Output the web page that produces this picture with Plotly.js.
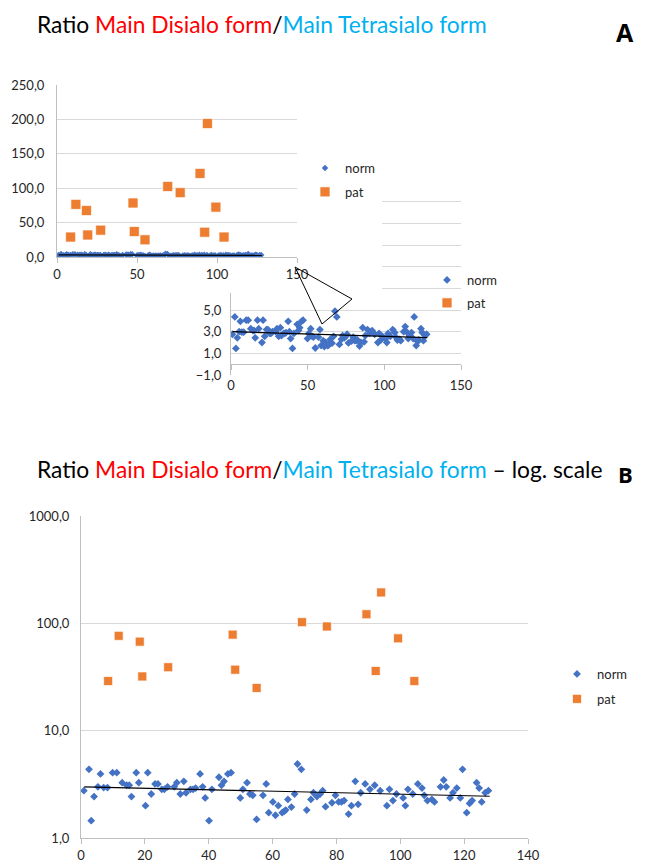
<!DOCTYPE html>
<html><head><meta charset="utf-8">
<script src="https://cdn.plot.ly/plotly-3.0.1.min.js"></script>
<style>html,body{margin:0;padding:0;background:#fff}#chart{width:648px;height:862px}</style>
</head><body><div id="chart"></div>
<script>
// ---- data ----
const seriesNames = ['norm', 'pat'];
const normX = [0.9,2.5,3.2,4.1,5.3,6.1,7.1,8.3,9.9,11.2,12.9,14.3,15.1,15.8,17.3,18.1,20.2,20.9,22.0,23.2,24.1,25.3,26.1,27.1,29.2,30.0,31.1,32.2,32.9,34.3,35.1,35.9,37.3,38.1,38.9,40.1,41.0,43.2,44.0,44.8,46.0,47.0,49.9,50.7,52.0,52.9,53.8,55.0,57.0,58.0,58.8,60.1,60.9,61.8,63.0,63.6,64.1,64.8,65.9,66.9,67.8,69.0,
  70.7,72.0,72.8,73.9,74.9,75.7,76.6,78.6,79.7,80.7,81.6,82.4,83.8,84.7,85.9,86.8,87.6,89.0,90.5,92.0,93.7,95.8,96.6,97.7,98.8,100.9,101.6,102.4,103.9,105.5,106.8,107.5,108.5,109.9,110.7,112.6,113.6,114.4,115.6,116.5,117.7,118.8,119.5,120.8,121.7,122.5,123.9,124.7,125.5,126.6,127.6];
const normY = [2.76,4.36,1.45,2.43,3.0,3.95,2.95,2.95,4.06,4.06,3.28,3.10,3.10,2.43,4.06,3.28,2.0,4.06,2.57,3.19,3.19,2.84,2.84,3.0,3.0,3.28,2.57,3.37,2.64,2.84,2.84,2.92,3.95,3.0,2.36,1.45,2.84,3.68,3.10,3.37,3.95,4.06,2.36,2.84,3.28,2.57,2.5,1.49,2.5,3.19,1.72,2.17,1.63,2.0,1.72,1.77,1.82,2.29,1.94,2.57,4.89,4.36,
  1.82,2.29,2.64,2.43,2.57,2.76,1.96,2.13,2.5,2.17,2.17,2.23,1.67,2.0,3.37,2.06,2.64,3.19,2.84,3.10,2.76,2.0,2.84,2.23,2.57,2.36,2.0,2.84,2.57,3.19,2.92,2.5,2.23,2.29,2.17,3.0,3.47,3.0,2.36,2.64,2.92,2.36,4.36,1.72,2.10,2.23,3.28,2.92,2.17,2.64,2.76];
const patX = [8.5,11.8,18.4,19.2,27.3,47.5,48.3,55.0,69.2,77.0,89.4,92.3,94.0,99.3,104.4];
const patY = [29,76.5,67.5,32,39,78.5,37,25,102.5,93.5,121.5,36,194,72.5,29];
const trendX = [1, 128];
const trendY = [3.0, 2.45];
const emptyX = [];
const emptyY = [];

// ---- helpers ----
const W = 648, H = 862;
const px = v => v / W;
const py = v => 1 - v / H;
const blue = '#4472C4', orange = '#ED7D31';
const gridC = '#d9d9d9', axisC = '#bfbfbf', tickC = '#262626';
const FONT = 'Lato, "Noto Sans", sans-serif';

function normTrace(xa, ya, leg, size) {
  return {type:'scatter', mode:'markers', x:normX, y:normY, xaxis:xa, yaxis:ya,
    name:seriesNames[0], legend:leg, legendgroup:'n', hoverinfo:'skip',
    marker:{symbol:'diamond', size:size, color:blue}};
}
function patTrace(xa, ya, leg, size) {
  return {type:'scatter', mode:'markers', x:patX, y:patY, xaxis:xa, yaxis:ya,
    name:seriesNames[1], legend:leg, legendgroup:'p', hoverinfo:'skip',
    marker:{symbol:'square', size:size, color:orange, line:{color:'rgba(255,255,255,0.7)', width:1}}};
}
function trendTrace(xa, ya) {
  return {type:'scatter', mode:'lines', x:trendX, y:trendY, xaxis:xa, yaxis:ya,
    showlegend:false, hoverinfo:'skip', line:{color:'#000', width:1.2}};
}

const traces = [
  normTrace('x','y','legend',5), patTrace('x','y','legend',10), trendTrace('x','y'),
  normTrace('x2','y2','legend2',6), patTrace('x2','y2','legend2',10), trendTrace('x2','y2'),
  {type:'scatter', mode:'markers', x:emptyX, y:emptyY, xaxis:'x4', yaxis:'y4', showlegend:false, hoverinfo:'skip'},
  normTrace('x3','y3','legend3',6), patTrace('x3','y3','legend3',9), trendTrace('x3','y3')
];

const xBase = {showgrid:false, zeroline:false, showline:true, linecolor:axisC, linewidth:1,
  ticks:'outside', ticklen:5, tickcolor:axisC, tickfont:{size:13, color:tickC}, fixedrange:true};
const yBase = {showgrid:true, gridcolor:gridC, gridwidth:1, zeroline:false, showline:true,
  linecolor:axisC, linewidth:1, ticks:'', tickfont:{size:13, color:tickC}, tickformat:'.1f', fixedrange:true};

const legBase = {xanchor:'left', yanchor:'top', bgcolor:'rgba(0,0,0,0)', font:{size:13, color:tickC},
  traceorder:'grouped', tracegroupgap:4};

const titleMid = 'Ratio <span style="color:#FF0000">Main Disialo form</span>/<span style="color:#00B0F0">Main Tetrasialo form</span>';

const layout = {
  width: W, height: H, autosize:false,
  margin:{l:0, r:0, t:0, b:0, pad:0},
  paper_bgcolor:'#fff', plot_bgcolor:'rgba(0,0,0,0)',
  font:{family:FONT, color:tickC},
  separators:', ',
  // Panel A main
  xaxis: Object.assign({}, xBase, {domain:[px(57), px(297)], range:[0,150], dtick:50, anchor:'y'}),
  yaxis: Object.assign({}, yBase, {domain:[py(257), py(85)], range:[0,250], dtick:50, anchor:'x', ticklabelstandoff:9}),
  // Panel A inset
  xaxis2: Object.assign({}, xBase, {domain:[px(231), px(461)], range:[0,150], dtick:50, anchor:'free',
    position: py(364.3), ticklabelstandoff:4}),
  yaxis2: Object.assign({}, yBase, {domain:[py(375), py(292.5)], range:[-1, 6.615], tick0:-1, dtick:2, anchor:'x2', ticklabelstandoff:6}),
  // inset grid lines that show to the right of panel A's main chart
  xaxis4: {domain:[px(382), px(461)], range:[0,150], visible:false, anchor:'y4', fixedrange:true},
  yaxis4: {domain:[py(289.4), py(200.6)], range:[6.9, 15.1], tick0:-1, dtick:2, anchor:'x4',
    showgrid:true, gridcolor:gridC, showline:false, zeroline:false, showticklabels:false, ticks:'', fixedrange:true},
  // Panel B
  xaxis3: Object.assign({}, xBase, {domain:[px(81), px(528)], range:[0,140], dtick:20, anchor:'y3'}),
  yaxis3: Object.assign({}, yBase, {domain:[py(838), py(516)], type:'log', range:[0,3],
    tickvals:[1,10,100,1000], anchor:'x3', ticklabelstandoff:8}),
  legend: Object.assign({}, legBase, {x:px(305), y:py(153)}),
  legend2: Object.assign({}, legBase, {x:px(427), y:py(265), tracegroupgap:3}),
  legend3: Object.assign({}, legBase, {x:px(557), y:py(659), tracegroupgap:5}),
  showlegend:true,
  annotations:[
    {xref:'paper', yref:'paper', x:px(35), y:py(24), xanchor:'left', yanchor:'middle', showarrow:false,
      text:titleMid, font:{family:FONT, size:22.8, color:'#000'}},
    {xref:'paper', yref:'paper', x:px(625), y:py(32), xanchor:'center', yanchor:'middle', showarrow:false,
      text:'<b>A</b>', font:{family:'"Open Sans", sans-serif', size:25, color:'#000'}},
    {xref:'paper', yref:'paper', x:px(35), y:py(469), xanchor:'left', yanchor:'middle', showarrow:false,
      text:titleMid + ' – log. scale', font:{family:FONT, size:22.8, color:'#000'}},
    {xref:'paper', yref:'paper', x:px(625), y:py(474), xanchor:'center', yanchor:'middle', showarrow:false,
      text:'<b>B</b>', font:{family:'"Open Sans", sans-serif', size:22, color:'#000'}}
  ],
  shapes:[
    {type:'path', xref:'paper', yref:'paper', layer:'above',
      path:`M ${px(295)},${py(267)} L ${px(352)},${py(299)} L ${px(322)},${py(324)} Z`,
      line:{color:'#000', width:1}, fillcolor:'rgba(0,0,0,0)'}
  ]
};

Plotly.newPlot('chart', traces, layout, {staticPlot:true, displayModeBar:false});
</script>
</body></html>
